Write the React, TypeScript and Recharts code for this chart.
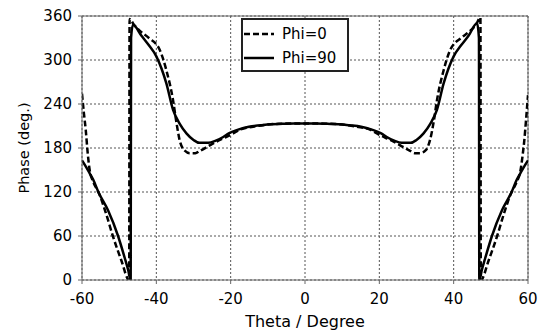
import { LineChart, Line, XAxis, YAxis, CartesianGrid, Legend, ReferenceLine } from 'recharts';

// Phi = 0 (dashed)
const phi0Theta = [
  -60, -59.5, -59, -58.5, -58, -57, -56, -55.6, -53.5, -51.7, -49.5, -47.3, -47.2, -46, -44.5, -42,
  -39.1, -37.3, -35.5, -34.6, -33.7, -32.5, -31, -29.5, -28.3, -25.5, -22.9, -20, -17.5, -14, -10, -6.7, -3, 0,
  3, 6.7, 10, 14, 17.5, 20, 22.9, 25.5, 28.3, 29.5, 31, 32.5, 33.7, 34.6, 35.5, 37.3, 39.1,
  42, 44.5, 46, 47.2, 47.3, 49.5, 51.7, 53.5, 55.6, 56, 57, 58, 58.5, 59, 59.5, 60,
];
const phi0Phase = [
  254, 228, 205, 175, 152, 134, 124, 120, 90, 60, 28, 0, 356, 348, 340, 330,
  314, 286, 245, 215, 190, 177, 173, 173, 176, 184, 191, 198, 205, 209, 212, 213, 213.5, 213.5,
  213.5, 213, 212, 209, 205, 198, 191, 184, 176, 173, 173, 177, 192, 215, 245, 286, 314,
  330, 340, 348, 358, 0, 28, 60, 90, 120, 124, 134, 150, 168, 190, 220, 252,
];

// Phi = 90 (solid)
const phi90Theta = [
  -60, -59, -58, -57, -55.6, -53, -50.3, -48.5, -47.6, -46.9, -46.8, -46.3, -44, -42, -40, -37.3,
  -35.5, -33.7, -31.9, -30, -28.4, -26, -24, -22, -20.5, -18, -15.1, -12, -9, -6, -3, 0,
  3, 6, 9, 12, 15.1, 18, 20.5, 22, 24, 26, 28.4, 30, 31.9, 33.7, 35.5, 37.3,
  40, 42, 44, 46.3, 46.8, 46.9, 47.6, 48.5, 50.3, 53, 55.6, 57, 58, 59, 60,
];
const phi90Phase = [
  163, 155, 146, 137, 120, 95, 60, 30, 14, 0, 330, 348, 333, 320, 305, 268,
  232, 213, 200, 191, 187, 187, 190, 195, 200, 205, 209, 211, 212.5, 213, 213.5, 213.5,
  213.5, 213, 212.5, 211, 209, 205, 200, 195, 190, 187, 187, 191, 200, 213, 232, 268,
  305, 320, 333, 350, 330, 0, 14, 30, 60, 95, 120, 137, 146, 155, 163,
];

const xTicks = [-60, -40, -20, 0, 20, 40, 60];
const yTicks = [0, 60, 120, 180, 240, 300, 360];
const seriesNames = ['Phi=0', 'Phi=90'];

const phi0Data = phi0Theta.map((theta, i) => ({ theta, phase: phi0Phase[i] }));
const phi90Data = phi90Theta.map((theta, i) => ({ theta, phase: phi90Phase[i] }));

const FONT = 'DejaVu Sans, Verdana, sans-serif';

const LegendBox = () => (
  <div
    style={{
      boxSizing: 'border-box',
      width: 108,
      height: 54,
      border: '2px solid #222',
      background: '#fff',
      paddingTop: 2,
      paddingLeft: 1,
      fontFamily: FONT,
      fontSize: 15,
      color: '#000',
    }}
  >
    {seriesNames.map((name, i) => (
      <div key={name} style={{ display: 'flex', alignItems: 'center', height: 24 }}>
        <svg width={30} height={4} style={{ marginRight: 8 }}>
          <line x1={0} y1={2} x2={30} y2={2} stroke="#000" strokeWidth={2.5} strokeDasharray={i === 0 ? '6 3' : undefined} />
        </svg>
        <span>{name}</span>
      </div>
    ))}
  </div>
);

export default function App() {
  return (
    <div style={{ position: 'absolute', left: 0, top: 0 }}>
      <LineChart width={547} height={330} margin={{ top: 16, right: 19, bottom: 0, left: 0 }}>
        <CartesianGrid stroke="#555" strokeDasharray="2 2" />
        <XAxis
          dataKey="theta"
          type="number"
          domain={[-60, 60]}
          ticks={xTicks}
          allowDataOverflow
          height={50}
          stroke="#666"
          tickSize={4}
          tickMargin={9}
          tick={{ fill: '#000', fontSize: 15, fontFamily: FONT }}
          label={{ value: 'Theta / Degree', position: 'insideBottom', offset: 3, fill: '#000', fontSize: 16, fontFamily: FONT }}
        />
        <YAxis
          type="number"
          domain={[0, 360]}
          ticks={yTicks}
          allowDataOverflow
          width={82}
          stroke="#666"
          tickSize={4}
          tickMargin={6}
          tick={{ fill: '#000', fontSize: 15, fontFamily: FONT }}
          label={{
            content: ({ viewBox }: any) => {
              const cx = viewBox.x + 24;
              const cy = viewBox.y + viewBox.height / 2;
              return (
                <text x={cx} y={cy} transform={`rotate(-90 ${cx} ${cy})`} textAnchor="middle" dominantBaseline="central" fill="#000" fontSize={14.5} fontFamily={FONT}>
                  Phase (deg.)
                </text>
              );
            },
          }}
        />
        <ReferenceLine y={360} stroke="#666" />
        <ReferenceLine x={60} stroke="#666" />
        <Legend content={<LegendBox />} layout="horizontal" verticalAlign="middle" align="center" wrapperStyle={{ left: 241, top: 18, width: 108 }} />
        <Line data={phi0Data} dataKey="phase" name="Phi=0" type="monotone" stroke="#000" strokeWidth={2.5} strokeDasharray="6 3" dot={false} isAnimationActive={false} />
        <Line data={phi90Data} dataKey="phase" name="Phi=90" type="monotone" stroke="#000" strokeWidth={2.5} dot={false} isAnimationActive={false} />
      </LineChart>
    </div>
  );
}
